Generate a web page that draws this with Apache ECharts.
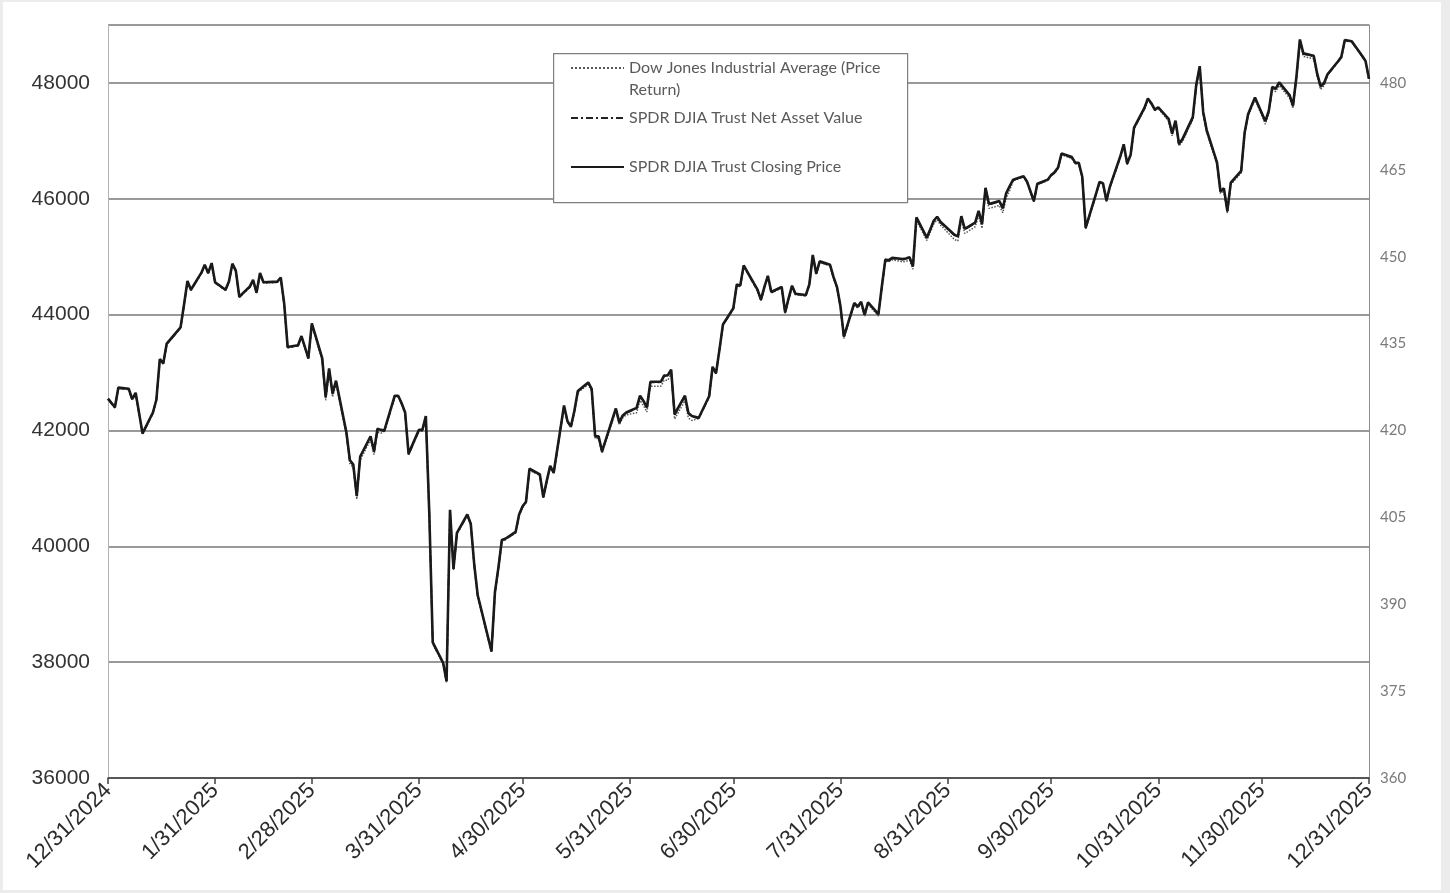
<!DOCTYPE html>
<html>
<head>
<meta charset="utf-8">
<title>SPDR DJIA Trust vs Dow Jones Industrial Average, 2025</title>
<script src="https://cdn.jsdelivr.net/npm/echarts@6/dist/echarts.min.js"></script>
<style>
  html, body { margin: 0; padding: 0; background: #ececec; }
  #chart { position: absolute; left: 3px; top: 2px; width: 1438px; height: 888px; background: #fff; }
</style>
</head>
<body>
<div id="chart"></div>
<script>
// market holidays (NYSE closed) between 12/31/2024 and 12/31/2025
var holidays = ['2025-01-01', '2025-01-09', '2025-01-20', '2025-02-17', '2025-04-18', '2025-05-26',
  '2025-06-19', '2025-07-04', '2025-09-01', '2025-11-27', '2025-12-25'];

// month-end tick labels on the x axis
var monthEnds = ['2024-12-31', '2025-01-31', '2025-02-28', '2025-03-31', '2025-04-30', '2025-05-31',
  '2025-06-30', '2025-07-31', '2025-08-31', '2025-09-30', '2025-10-31', '2025-11-30', '2025-12-31'];

var djiaName = 'Dow Jones Industrial Average (Price Return)';
var navName = 'SPDR DJIA Trust Net Asset Value';
var closeName = 'SPDR DJIA Trust Closing Price';

// Dow Jones Industrial Average, daily close (left axis)
var djia = [
  42544,
  42392, 42732, 42706, 42528, 42635, 41938, 42297, 42518, 43221, 43153, 43488, 43768, 44157, 44565, 44424, 44714, 44850, 44714, 44882, 44545,
  44422, 44556, 44873, 44747, 44303, 44470, 44594, 44369, 44711, 44546, 44556, 44628, 44177, 43428, 43461, 43621, 43433, 43239, 43841,
  43191, 42521, 43006, 42579, 42802, 41912, 41433, 41350, 40813, 41488, 41841, 41582, 41965, 41953, 41985, 42583, 42588, 42455, 42300, 41584, 42002,
  41989, 42226, 40546, 38315, 37966, 37646, 40609, 39594, 40213, 40525, 40368, 39669, 39142, 38171, 39187, 39607, 40093, 40114, 40228, 40528, 40669,
  40753, 41317, 41219, 40829, 41114, 41368, 41249, 42410, 42140, 42051, 42323, 42655, 42792, 42677, 41860, 41859, 41603, 42343, 42098, 42216, 42270,
  42305, 42520, 42428, 42319, 42763, 42762, 42867, 42865, 42968, 42198, 42515, 42215, 42172, 42207, 42582, 43089, 42982, 43387, 43819, 44095,
  44495, 44484, 44829, 44406, 44241, 44458, 44651, 44372, 44460, 44023, 44255, 44484, 44342, 44323, 44502, 45010, 44694, 44902, 44838, 44633, 44461, 44131,
  43589, 44174, 44112, 44193, 43969, 44176, 43975, 44459, 44922, 44911, 44946, 44912, 44922, 44938, 44785, 45632, 45282, 45418, 45565, 45637, 45545,
  45296, 45271, 45621, 45401, 45515, 45711, 45490, 46108, 45834, 45884, 45758, 46018, 46142, 46315, 46382, 46292, 46121, 45947, 46247, 46316, 46398,
  46441, 46519, 46758, 46695, 46603, 46602, 46358, 45480, 46068, 46270, 46253, 45952, 46191, 46707, 46924, 46590, 46735, 47207, 47545, 47706, 47632, 47522, 47563,
  47337, 47085, 47311, 46912, 46987, 47368, 47927, 48254, 47457, 47147, 46590, 46091, 46139, 45752, 46245, 46448, 47112, 47427, 47716,
  47289, 47474, 47883, 47851, 47955, 47739, 47560, 48057, 48704, 48458, 48416, 48114, 47886, 47952, 48135, 48362, 48442, 48731, 48711, 48462, 48367, 48063
];

// SPDR DJIA Trust net asset value per share (right axis)
var navPrice = [
  425.4,
  423.9, 427.3, 427.1, 425.3, 426.4, 419.4, 423.0, 425.2, 432.2, 431.5, 434.9, 437.7, 441.6, 445.7, 444.2, 447.1, 448.5, 447.1, 448.8, 445.5,
  444.2, 445.6, 448.7, 447.5, 443.0, 444.7, 445.9, 443.7, 447.1, 445.5, 445.6, 446.3, 441.8, 434.3, 434.6, 436.2, 434.3, 432.4, 438.4,
  432.4, 425.7, 430.6, 426.3, 428.5, 419.6, 414.8, 414.0, 408.6, 415.4, 418.9, 416.3, 420.2, 420.0, 419.9, 425.8, 425.9, 424.6, 423.0, 415.8, 420.0,
  420.0, 422.4, 405.6, 383.3, 379.8, 376.6, 406.2, 396.0, 402.2, 405.4, 403.8, 396.8, 391.5, 381.8, 392.0, 396.2, 401.0, 401.2, 402.4, 405.4, 406.8,
  407.6, 413.3, 412.3, 408.4, 411.2, 413.8, 412.6, 424.2, 421.5, 420.6, 423.3, 426.7, 428.2, 427.1, 418.9, 418.9, 416.3, 423.7, 421.3, 422.5, 423.0,
  423.8, 425.9, 425.0, 423.9, 428.3, 428.3, 429.4, 429.4, 430.4, 422.7, 425.9, 422.9, 422.4, 422.1, 425.8, 430.9, 429.8, 433.9, 438.2, 441.0,
  445.1, 444.9, 448.4, 444.2, 442.5, 444.7, 446.6, 443.8, 444.7, 440.3, 442.7, 444.9, 443.5, 443.3, 445.1, 450.2, 447.0, 449.1, 448.5, 446.4, 444.7, 441.4,
  436.1, 441.9, 441.3, 442.1, 439.9, 442.0, 440.0, 444.8, 449.4, 449.3, 449.7, 449.5, 449.6, 449.8, 448.3, 456.7, 453.2, 454.6, 456.1, 456.8, 455.9,
  453.7, 453.4, 456.9, 454.7, 455.8, 457.8, 455.6, 461.8, 459.0, 459.5, 458.3, 460.9, 462.1, 463.2, 463.8, 462.9, 461.2, 459.5, 462.5, 463.2, 464.0,
  464.5, 465.3, 467.7, 467.1, 466.1, 466.1, 463.7, 454.9, 460.8, 462.8, 462.6, 459.6, 462.0, 467.2, 469.3, 466.0, 467.5, 472.2, 475.6, 477.2, 476.4, 475.3, 475.7,
  473.7, 471.2, 473.4, 469.4, 470.2, 474.0, 479.6, 482.8, 474.9, 471.8, 466.2, 461.2, 461.7, 457.8, 462.7, 464.7, 471.3, 474.5, 477.4,
  473.3, 475.1, 479.2, 478.9, 480.0, 477.8, 476.0, 481.0, 487.4, 485.0, 484.6, 481.5, 479.3, 479.9, 481.4, 483.6, 484.4, 487.3, 487.1, 484.6, 483.7, 480.6
];

// SPDR DJIA Trust closing market price (right axis)
var closePrice = [
  425.5,
  424.0, 427.4, 427.2, 425.4, 426.5, 419.5, 423.1, 425.3, 432.3, 431.6, 435.0, 437.8, 441.7, 445.8, 444.3, 447.2, 448.6, 447.2, 448.9, 445.6,
  444.3, 445.7, 448.8, 447.6, 443.1, 444.8, 446.0, 443.8, 447.2, 445.6, 445.7, 446.4, 441.9, 434.4, 434.7, 436.3, 434.4, 432.5, 438.5,
  432.5, 425.8, 430.7, 426.4, 428.6, 419.7, 414.9, 414.1, 408.7, 415.5, 419.0, 416.4, 420.3, 420.1, 420.0, 426.0, 426.0, 424.7, 423.1, 416.0, 420.1,
  420.1, 422.5, 405.7, 383.4, 379.9, 376.7, 406.3, 396.1, 402.3, 405.5, 403.9, 396.9, 391.6, 381.9, 392.1, 396.3, 401.1, 401.3, 402.5, 405.5, 406.9,
  407.7, 413.4, 412.4, 408.5, 411.3, 413.9, 412.7, 424.3, 421.6, 420.7, 423.4, 426.8, 428.3, 427.2, 419.0, 419.0, 416.4, 423.8, 421.4, 422.6, 423.1,
  423.9, 426.0, 425.1, 424.0, 428.4, 428.4, 429.5, 429.5, 430.5, 422.8, 426.0, 423.0, 422.5, 422.2, 425.9, 431.0, 429.9, 434.0, 438.3, 441.1,
  445.2, 445.0, 448.5, 444.3, 442.6, 444.8, 446.7, 443.9, 444.8, 440.4, 442.8, 445.0, 443.6, 443.4, 445.2, 450.3, 447.1, 449.2, 448.6, 446.5, 444.8, 441.5,
  436.2, 442.0, 441.4, 442.2, 440.0, 442.1, 440.1, 444.9, 449.5, 449.4, 449.8, 449.6, 449.7, 449.9, 448.4, 456.8, 453.3, 454.7, 456.2, 456.9, 456.0,
  453.8, 453.5, 457.0, 454.8, 455.9, 457.9, 455.7, 461.9, 459.1, 459.6, 458.4, 461.0, 462.2, 463.3, 463.9, 463.0, 461.3, 459.6, 462.6, 463.3, 464.1,
  464.6, 465.4, 467.8, 467.2, 466.2, 466.2, 463.8, 455.0, 460.9, 462.9, 462.7, 459.7, 462.1, 467.3, 469.4, 466.1, 467.6, 472.3, 475.7, 477.3, 476.5, 475.4, 475.8,
  473.8, 471.3, 473.5, 469.5, 470.3, 474.1, 479.7, 482.9, 475.0, 471.9, 466.3, 461.3, 461.8, 457.9, 462.8, 464.8, 471.4, 474.6, 477.5,
  473.4, 475.2, 479.3, 479.0, 480.1, 477.9, 476.1, 481.1, 487.5, 485.1, 484.7, 481.6, 479.4, 480.0, 481.5, 483.7, 484.5, 487.4, 487.2, 484.7, 483.8, 480.7
];

function toDay(s) {
  var p = s.split('-');
  return new Date(+p[0], +p[1] - 1, +p[2]);
}
function dayKey(d) {
  var m = d.getMonth() + 1, dd = d.getDate();
  return d.getFullYear() + '-' + (m < 10 ? '0' : '') + m + '-' + (dd < 10 ? '0' : '') + dd;
}

// trading days: weekdays that are not market holidays
var tradeDays = [];
var cur = toDay(monthEnds[0]);
var last = toDay(monthEnds[monthEnds.length - 1]);
while (cur <= last) {
  var dow = cur.getDay();
  if (dow !== 0 && dow !== 6 && holidays.indexOf(dayKey(cur)) < 0) tradeDays.push(cur.getTime());
  cur = new Date(cur.getFullYear(), cur.getMonth(), cur.getDate() + 1);
}

function pair(arr) {
  return arr.map(function(v, i) { return [tradeDays[i], v]; });
}

var tickValues = monthEnds.map(function(s) { return toDay(s).getTime(); });

var chart = echarts.init(document.getElementById('chart'), null, { renderer: 'canvas' });

var legendCommon = {
  orient: 'vertical',
  left: 567,
  padding: 0,
  itemWidth: 53,
  itemHeight: 14,
  selectedMode: false,
  z: 10,
  itemStyle: { opacity: 0 },
  textStyle: { fontFamily: 'Lato', fontSize: 16, color: '#5a5a5a', lineHeight: 22 }
};

chart.setOption({
  animation: false,
  backgroundColor: '#fff',
  grid: { left: 105, right: 72, top: 23, bottom: 112, containLabel: false },
  graphic: [{
    type: 'rect', left: 550, top: 51, z: 5,
    shape: { width: 354, height: 149 },
    style: { fill: '#fff', stroke: '#7f7f7f', lineWidth: 1.2 }
  }],
  legend: [
    Object.assign({}, legendCommon, {
      top: 33,
      data: [djiaName],
      // blank first line keeps the sample line level with the first text line
      formatter: function() { return '\nDow Jones Industrial Average (Price\nReturn)'; }
    }),
    Object.assign({}, legendCommon, { top: 105, data: [navName] }),
    Object.assign({}, legendCommon, { top: 154, data: [closeName] })
  ],
  xAxis: {
    type: 'value',
    min: tickValues[0],
    max: tickValues[tickValues.length - 1],
    splitLine: { show: false },
    axisLine: { lineStyle: { color: '#404040', width: 1.5 } },
    axisTick: { customValues: tickValues, length: 6, lineStyle: { color: '#404040', width: 1.5 } },
    axisLabel: {
      customValues: tickValues,
      rotate: 45,
      margin: 9,
      fontFamily: 'Liberation Sans',
      fontSize: 22,
      color: '#2b2b2b',
      hideOverlap: false,
      formatter: function(v) {
        var d = new Date(v);
        return (d.getMonth() + 1) + '/' + d.getDate() + '/' + d.getFullYear();
      }
    }
  },
  yAxis: [{
    type: 'value',
    position: 'left',
    min: 36000, max: 49000, interval: 2000,
    axisLine: { show: true, lineStyle: { color: '#b3b3b3', width: 1 } },
    axisTick: { show: false },
    axisLabel: {
      fontFamily: 'Liberation Sans', fontSize: 21, color: '#333', margin: 18, showMaxLabel: false,
      formatter: function(v) { return String(v); }
    },
    splitLine: { lineStyle: { color: '#777', width: 1.5 } }
  }, {
    type: 'value',
    position: 'right',
    min: 360, max: 490, interval: 15,
    axisLine: { show: true, lineStyle: { color: '#8c8c8c', width: 1 } },
    axisTick: { show: false },
    axisLabel: { fontFamily: 'Lato', fontSize: 15, color: '#7a7a7a', margin: 11, showMaxLabel: false },
    splitLine: { show: false }
  }],
  series: [{
    name: djiaName,
    type: 'line',
    yAxisIndex: 0,
    data: pair(djia),
    showSymbol: false, symbol: 'none',
    itemStyle: { color: '#555' },
    lineStyle: { type: 'dotted', width: 1.5, color: '#555' }
  }, {
    name: navName,
    type: 'line',
    yAxisIndex: 1,
    data: pair(navPrice),
    showSymbol: false, symbol: 'none',
    itemStyle: { color: '#222' },
    lineStyle: { type: [7, 3, 2, 3], width: 1.8, color: '#222' }
  }, {
    name: closeName,
    type: 'line',
    yAxisIndex: 1,
    data: pair(closePrice),
    showSymbol: false, symbol: 'none',
    itemStyle: { color: '#1a1a1a' },
    lineStyle: { width: 2.6, color: '#1a1a1a' }
  }]
});

window.addEventListener('resize', function() { chart.resize(); });
</script>
</body>
</html>
